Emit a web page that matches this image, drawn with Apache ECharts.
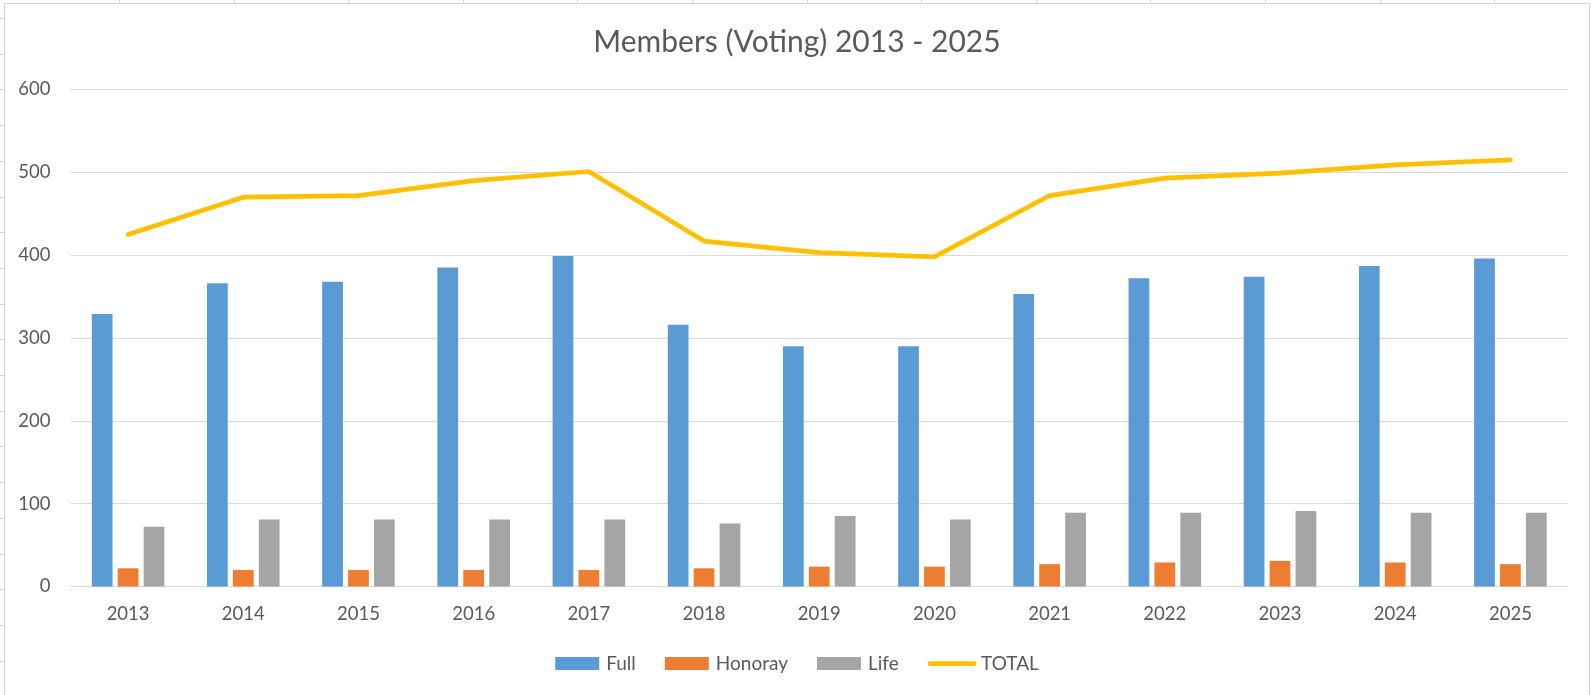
<!DOCTYPE html>
<html>
<head>
<meta charset="utf-8">
<script src="https://cdn.jsdelivr.net/npm/echarts@6/dist/echarts.min.js"></script>
<style>
html,body{margin:0;padding:0;background:#fff;}
#chart{width:1594px;height:695px;}
</style>
</head>
<body>
<div id="chart"></div>
<script>
const categories = ['2013','2014','2015','2016','2017','2018','2019','2020','2021','2022','2023','2024','2025'];
const fullMembers = [329, 366, 368, 385, 399, 316, 290, 290, 353, 372, 374, 387, 396];
const honorayMembers = [22, 20, 20, 20, 20, 22, 24, 24, 27, 29, 31, 29, 27];
const lifeMembers = [72, 81, 81, 81, 81, 76, 85, 81, 89, 89, 91, 89, 89];
const totalMembers = [425, 470, 472, 490, 501, 417, 403, 398, 472, 493, 499, 509, 515];
const yTicks = {min: 0, max: 600, interval: 100};

const FONT = 'Lato, "Open Sans", sans-serif';
const TXT = '#595959';
const GRID = '#d9d9d9';

const chart = echarts.init(document.getElementById('chart'), null, {renderer: 'canvas'});

// faint spreadsheet lines behind the chart
const deco = [];
deco.push({type: 'rect', shape: {x: 4.5, y: 3.5, width: 1585, height: 700}, style: {fill: 'none', stroke: '#d4d4d4', lineWidth: 1}, silent: true, z: -10});
for (let k = 0; k < 14; k++) {
  const x = Math.round(119 + k * 114.6) + 0.5;
  deco.push({type: 'line', shape: {x1: x, y1: 0, x2: x, y2: 3}, style: {stroke: '#d4d4d4', lineWidth: 1}, silent: true, z: -10});
}
for (let k = 0; k < 20; k++) {
  const y = Math.round(18 + k * 35.7) + 0.5;
  deco.push({type: 'line', shape: {x1: 0, y1: y, x2: 4, y2: y}, style: {stroke: '#d4d4d4', lineWidth: 1}, silent: true, z: -10});
}

const option = {
  backgroundColor: '#ffffff',
  animation: false,
  title: {
    text: 'Members (Voting) 2013 - 2025',
    left: 'center',
    top: 22,
    textStyle: {fontFamily: FONT, fontSize: 30, fontWeight: 'normal', color: TXT}
  },
  grid: {left: 70.5, right: 26, top: 89.5, bottom: 108.5, containLabel: false},
  legend: {
    bottom: 17,
    left: 'center',
    itemWidth: 44,
    itemHeight: 13,
    itemGap: 29,
    textStyle: {fontFamily: FONT, fontSize: 19, color: TXT, padding: [0, 0, 0, 2]},
    data: [
      {name: 'Full', icon: 'rect'},
      {name: 'Honoray', icon: 'rect'},
      {name: 'Life', icon: 'rect'},
      {name: 'TOTAL', itemStyle: {opacity: 0}, lineStyle: {color: '#FFC000', width: 4.75, cap: 'round'}}
    ]
  },
  xAxis: {
    type: 'category',
    data: categories,
    axisLine: {show: true, lineStyle: {color: GRID, width: 1}},
    axisTick: {show: false},
    axisLabel: {fontFamily: FONT, fontSize: 18.5, color: TXT, margin: 18}
  },
  yAxis: {
    type: 'value',
    min: yTicks.min,
    max: yTicks.max,
    interval: yTicks.interval,
    axisLine: {show: false},
    axisTick: {show: false},
    splitLine: {lineStyle: {color: GRID, width: 1}},
    axisLabel: {fontFamily: FONT, fontSize: 18.5, color: TXT, margin: 20}
  },
  series: [
    {name: 'Full', type: 'bar', data: fullMembers, barGap: '25%', barCategoryGap: '37%', itemStyle: {color: '#5B9BD5'}},
    {name: 'Honoray', type: 'bar', data: honorayMembers, itemStyle: {color: '#ED7D31'}},
    {name: 'Life', type: 'bar', data: lifeMembers, itemStyle: {color: '#A5A5A5'}},
    {name: 'TOTAL', type: 'line', data: totalMembers, symbol: 'none', showSymbol: false, z: 5,
     lineStyle: {color: '#FFC000', width: 4.75, cap: 'round', join: 'round'}, itemStyle: {color: '#FFC000'}}
  ],
  graphic: deco
};
chart.setOption(option);
</script>
</body>
</html>
